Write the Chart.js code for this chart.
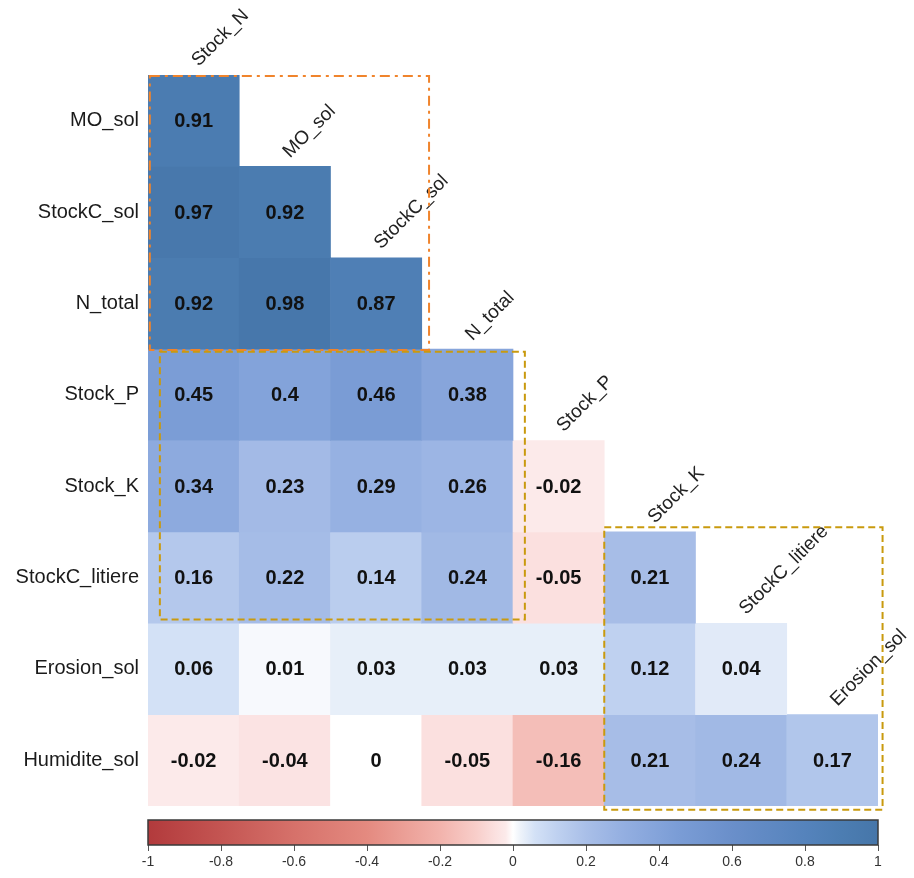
<!DOCTYPE html>
<html>
<head>
<meta charset="utf-8">
<script src="https://cdn.jsdelivr.net/npm/chart.js@4/dist/chart.umd.min.js"></script>
<style>
  html, body { margin: 0; padding: 0; background: #fff; }
  canvas { display: block; }
</style>
</head>
<body>
<canvas id="corr" width="914" height="878"></canvas>
<script>
// Variables (rows top to bottom, columns left to right)
const rowNames = ['MO_sol', 'StockC_sol', 'N_total', 'Stock_P', 'Stock_K', 'StockC_litiere', 'Erosion_sol', 'Humidite_sol'];
const colNames = ['Stock_N', 'MO_sol', 'StockC_sol', 'N_total', 'Stock_P', 'Stock_K', 'StockC_litiere', 'Erosion_sol'];

// Lower-triangle correlation coefficients, one array per row
const rMO_sol        = [0.91];
const rStockC_sol    = [0.97, 0.92];
const rN_total       = [0.92, 0.98, 0.87];
const rStock_P       = [0.45, 0.4, 0.46, 0.38];
const rStock_K       = [0.34, 0.23, 0.29, 0.26, -0.02];
const rStockC_litiere= [0.16, 0.22, 0.14, 0.24, -0.05, 0.21];
const rErosion_sol   = [0.06, 0.01, 0.03, 0.03, 0.03, 0.12, 0.04];
const rHumidite_sol  = [-0.02, -0.04, 0, -0.05, -0.16, 0.21, 0.24, 0.17];
const corrRows = [rMO_sol, rStockC_sol, rN_total, rStock_P, rStock_K, rStockC_litiere, rErosion_sol, rHumidite_sol];

// Colour bar ticks
const colorbarTicks = [-1, -0.8, -0.6, -0.4, -0.2, 0, 0.2, 0.4, 0.6, 0.8, 1];

// Diverging palette (red - white - blue)
const paletteStops = [
  [-1.0, '#B23A3C'], [-0.8, '#C45552'], [-0.6, '#D6716A'], [-0.4, '#E48A80'],
  [-0.2, '#F2B3AC'], [-0.1, '#F8CECA'], [-0.05, '#FBE0DF'], [-0.02, '#FCEAEA'],
  [0, '#FFFFFF'],
  [0.02, '#EEF3FA'], [0.06, '#D3E1F6'], [0.12, '#BFD1F0'], [0.2, '#A9BFE8'],
  [0.3, '#94AFE1'], [0.45, '#7B9DD6'], [0.6, '#6A8FCA'], [0.8, '#5583BC'],
  [0.9, '#4C7DB2'], [1.0, '#4676A9']
];
function hexRgb(h) { return [1, 3, 5].map(i => parseInt(h.substr(i, 2), 16)); }
function colorFor(v) {
  for (let k = 1; k < paletteStops.length; k++) {
    const [v1, c1] = paletteStops[k];
    if (v <= v1) {
      const [v0, c0] = paletteStops[k - 1];
      const t = (v - v0) / (v1 - v0);
      const a = hexRgb(c0), b = hexRgb(c1);
      const m = a.map((x, i) => Math.round(x + (b[i] - x) * t));
      return `rgb(${m[0]},${m[1]},${m[2]})`;
    }
  }
  return paletteStops[paletteStops.length - 1][1];
}

// Highlight frames, in cell units: [col0, col1, row0, row1]
const frames = [
  { box: [0.02, 3.08, 0.01, 3.01], color: '#F0842C', dash: [10, 5, 3, 5] },
  { box: [0.13, 4.13, 3.03, 5.96], color: '#C99A0E', dash: [7, 4] },
  { box: [5.0, 8.05, 4.95, 8.04], color: '#C99A0E', dash: [7, 4] }
];

const FONT = '"Liberation Sans", Arial, sans-serif';

// One floating-bar dataset per row: each cell spans [row, row + 1] on the y scale
const datasets = corrRows.map((vals, i) => ({
  label: rowNames[i],
  data: colNames.map((c, j) => (j < vals.length ? [i, i + 1] : null)),
  corr: vals,
  backgroundColor: colNames.map((c, j) => (j < vals.length ? colorFor(vals[j]) : 'rgba(0,0,0,0)')),
  borderWidth: 0,
  grouped: false,
  barPercentage: 1,
  categoryPercentage: 1
}));

const cellText = {
  id: 'cellText',
  afterDatasetsDraw(chart) {
    const ctx = chart.ctx;
    ctx.save();
    ctx.font = `bold 20px ${FONT}`;
    ctx.fillStyle = '#111';
    ctx.textAlign = 'center';
    ctx.textBaseline = 'middle';
    chart.data.datasets.forEach((ds, i) => {
      const meta = chart.getDatasetMeta(i);
      ds.corr.forEach((v, j) => {
        const el = meta.data[j];
        if (!el) return;
        const p = el.getCenterPoint();
        ctx.fillText(String(v), p.x, p.y + 1);
      });
    });
    ctx.restore();
  }
};

const diagLabels = {
  id: 'diagLabels',
  afterDatasetsDraw(chart) {
    const ctx = chart.ctx;
    const x = chart.scales.x, y = chart.scales.y;
    ctx.save();
    ctx.font = `19px ${FONT}`;
    ctx.fillStyle = '#222';
    ctx.textAlign = 'left';
    ctx.textBaseline = 'alphabetic';
    colNames.forEach((name, j) => {
      const cx = x.getPixelForValue(j);
      const top = y.getPixelForValue(j);
      ctx.save();
      ctx.translate(cx + 5, top - 8);
      ctx.rotate(-Math.PI / 4);
      ctx.fillText(name, 0, 0);
      ctx.restore();
    });
    ctx.restore();
  }
};

const frameLines = {
  id: 'frameLines',
  afterDatasetsDraw(chart) {
    const ctx = chart.ctx;
    const x = chart.scales.x, y = chart.scales.y;
    ctx.save();
    ctx.lineWidth = 2;
    frames.forEach(f => {
      const [c0, c1, r0, r1] = f.box;
      const x0 = x.getPixelForValue(c0 - 0.5), x1 = x.getPixelForValue(c1 - 0.5);
      const y0 = y.getPixelForValue(r0), y1 = y.getPixelForValue(r1);
      ctx.strokeStyle = f.color;
      ctx.setLineDash(f.dash);
      ctx.strokeRect(x0, y0, x1 - x0, y1 - y0);
    });
    ctx.restore();
  }
};

const colorBar = {
  id: 'colorBar',
  afterDraw(chart) {
    const ctx = chart.ctx;
    const s = chart.scales.cb;
    const top = s.top - 25, h = 25;
    const x0 = s.getPixelForValue(-1), x1 = s.getPixelForValue(1);
    const grad = ctx.createLinearGradient(x0, 0, x1, 0);
    paletteStops.forEach(([v, c]) => grad.addColorStop((v + 1) / 2, c));
    ctx.save();
    ctx.fillStyle = grad;
    ctx.fillRect(x0, top, x1 - x0, h);
    ctx.strokeStyle = '#3a3a3a';
    ctx.lineWidth = 1.5;
    ctx.strokeRect(x0, top, x1 - x0, h);
    ctx.restore();
  }
};

new Chart(document.getElementById('corr'), {
  type: 'bar',
  data: { labels: colNames, datasets },
  options: {
    responsive: false,
    animation: false,
    devicePixelRatio: 1,
    layout: { padding: { top: 75, right: 36, bottom: 0, left: 0 } },
    plugins: { legend: { display: false }, tooltip: { enabled: false } },
    scales: {
      x: {
        type: 'category',
        position: 'bottom',
        weight: 0,
        grid: { display: false },
        border: { display: false },
        ticks: { display: false },
        afterFit(s) { s.height = 39; }
      },
      cb: {
        type: 'linear',
        position: 'bottom',
        weight: 10,
        min: -1,
        max: 1,
        offset: false,
        afterBuildTicks(s) { s.ticks = colorbarTicks.map(v => ({ value: v })); },
        grid: { offset: false, drawOnChartArea: false, drawTicks: true, tickLength: 6, color: '#555' },
        border: { display: false },
        ticks: {
          font: { family: FONT, size: 14 },
          color: '#333',
          padding: 3,
          maxRotation: 0,
          callback: (v, i) => String(colorbarTicks[i])
        },
        afterFit(s) { s.height = 33; }
      },
      y: {
        type: 'linear',
        min: 0,
        max: 8,
        reverse: true,
        afterBuildTicks(s) { s.ticks = rowNames.map((n, i) => ({ value: i + 0.5 })); },
        grid: { display: false, drawTicks: false },
        border: { display: false },
        ticks: {
          font: { family: FONT, size: 20 },
          color: '#1a1a1a',
          padding: 9,
          callback: (v, i) => rowNames[i]
        },
        afterFit(s) { s.width = 148; }
      }
    }
  },
  plugins: [cellText, diagLabels, frameLines, colorBar]
});
</script>
</body>
</html>
